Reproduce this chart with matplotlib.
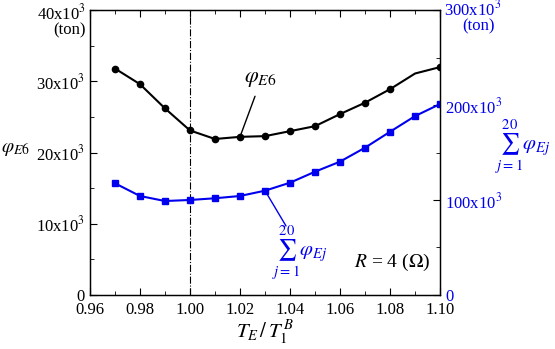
import matplotlib
matplotlib.use("Agg")
import matplotlib.pyplot as plt
from matplotlib.ticker import MultipleLocator, FixedLocator

plt.rcParams["font.family"] = ["Liberation Serif", "DejaVu Serif"]
plt.rcParams["mathtext.fontset"] = "stix"

# data
ratio = [0.97, 0.98, 0.99, 1.00, 1.01, 1.02, 1.03, 1.04, 1.05, 1.06, 1.07, 1.08, 1.09, 1.10]
phi_e6 = [31.8, 29.6, 26.2, 23.1, 21.9, 22.2, 22.3, 23.0, 23.7, 25.4, 27.0, 28.9, 31.1, 32.0]  # x10^3 ton
phi_sum = [117.6, 104.2, 98.9, 100.0, 101.8, 104.2, 109.8, 118.2, 129.8, 140.4, 155.1, 171.9, 188.4, 201.1]  # x10^3 ton
black_marks = [0, 1, 2, 3, 4, 5, 6, 7, 8, 9, 10, 11, 13]

left_ticks = [0, 10, 20, 30, 40]
right_ticks = [0, 100, 200, 300]
x_ticks = [0.96, 0.98, 1.00, 1.02, 1.04, 1.06, 1.08, 1.10]

blue = "#0000ee"


def sci(v):
    return "0" if v == 0 else rf"{v}x10$^3$"


fig = plt.figure(figsize=(5.55, 3.49), dpi=100)
ax = fig.add_axes([0.162, 0.155, 0.631, 0.816])
ax2 = ax.twinx()

ax.plot(ratio, [v * 1e3 for v in phi_e6], color="black", lw=1.5,
        marker="o", ms=4.5, markevery=black_marks)
ax2.plot(ratio, [v * 1e3 for v in phi_sum], color=blue, lw=1.5,
         marker="s", ms=4.5)
ax.axvline(1.00, color="black", lw=0.8, ls="-.")

ax.set_xlim(0.96, 1.10)
ax.set_ylim(0, 40e3)
ax2.set_ylim(0, 300e3)

ax.xaxis.set_major_locator(FixedLocator(x_ticks))
ax.xaxis.set_minor_locator(MultipleLocator(0.01))
ax.set_xticklabels([f"{v:.2f}" for v in x_ticks])
ax.yaxis.set_major_locator(FixedLocator([v * 1e3 for v in left_ticks]))
ax.yaxis.set_minor_locator(MultipleLocator(5e3))
# top labels are drawn by hand together with the unit
ax.set_yticklabels([sci(v) for v in left_ticks[:-1]] + [""])
ax2.yaxis.set_major_locator(FixedLocator([v * 1e3 for v in right_ticks]))
ax2.yaxis.set_minor_locator(MultipleLocator(50e3))
ax2.set_yticklabels([sci(v) for v in right_ticks[:-1]] + [""])

ax.tick_params(axis="both", which="both", direction="in", labelsize=12)
ax.tick_params(axis="x", which="both", top=True)
ax.tick_params(axis="x", pad=5)
ax.tick_params(which="major", length=5)
ax.tick_params(which="minor", length=3)
ax.tick_params(axis="y", right=False, which="both")
ax2.tick_params(axis="y", which="both", direction="in", labelsize=12, labelcolor=blue)
ax2.tick_params(which="major", length=5)
ax2.tick_params(which="minor", length=3)
for a in (ax, ax2):
    for s in a.spines.values():
        s.set_linewidth(0.9)

# top tick labels with units
ax.text(-0.012, 0.968, sci(left_ticks[-1]), transform=ax.transAxes, ha="right",
        va="baseline", fontsize=12)
ax.text(-0.012, 0.915, "(ton)", transform=ax.transAxes, ha="right", va="baseline", fontsize=12)
ax2.text(1.012, 0.982, sci(right_ticks[-1]), transform=ax.transAxes, ha="left",
         va="baseline", fontsize=12, color=blue)
ax2.text(1.111, 0.93, "(ton)", transform=ax.transAxes, ha="center", va="baseline",
         fontsize=12, color=blue)

ax.text(-0.213, 0.512, r"$\varphi_{E6}$", transform=ax.transAxes, ha="center",
        va="center", fontsize=14)
ax.text(1.237, 0.52, r"$\sum_{j=1}^{20}\varphi_{Ej}$", transform=ax.transAxes,
        ha="center", va="center", fontsize=15, color=blue)
ax.set_xlabel(r"$T_E\,/\,T_1^{\,B}$", fontsize=15, labelpad=1)

# curve labels with leader lines
ax.annotate("", xy=(1.02, 22.2e3), xytext=(1.026, 27.9e3),
            arrowprops=dict(arrowstyle="-", color="black", lw=1.0, shrinkA=0, shrinkB=0))
ax.text(1.028, 30.3e3, r"$\varphi_{E6}$", fontsize=16, ha="center", va="center")
ax2.annotate("", xy=(1.03, 109.8e3), xytext=(1.0384, 72.6e3),
             arrowprops=dict(arrowstyle="-", color=blue, lw=1.0, shrinkA=0, shrinkB=0))
ax2.text(1.044, 44e3, r"$\sum_{j=1}^{20}\varphi_{Ej}$", fontsize=15, ha="center",
         va="center", color=blue)
ax.text(1.081, 4.6e3, r"$R$ = 4 ($\Omega$)", fontsize=14, ha="center", va="center")

fig.savefig("out.png", dpi=100)
